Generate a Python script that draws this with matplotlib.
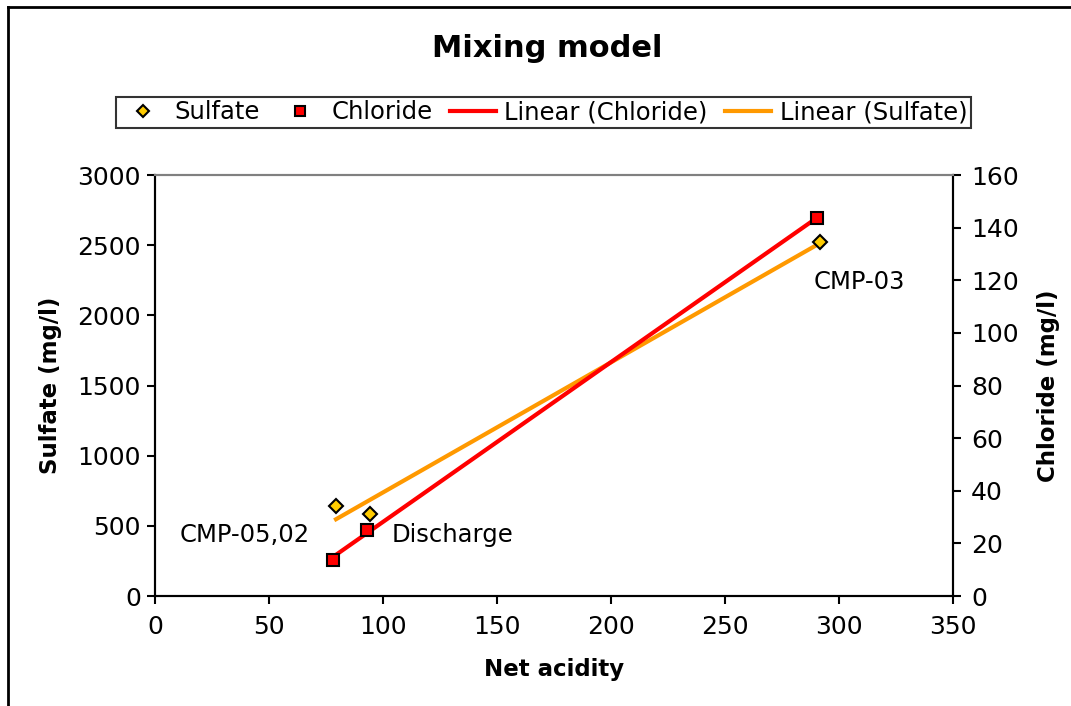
import numpy as np
import matplotlib.pyplot as plt
from matplotlib.lines import Line2D

# net acidity vs sulfate / chloride for the three sampling points
net_acidity_so4 = [79.4, 94.3, 291.7]
sulfate = [641, 584, 2522]
net_acidity_cl = [78.0, 93.0, 290.4]
chloride = [13.7, 25.1, 143.7]

site_labels = ['CMP-05,02', 'Discharge', 'CMP-03']

plt.rcParams['font.family'] = 'DejaVu Sans'

fig = plt.figure(figsize=(10.71, 7.06), dpi=100)
ax = fig.add_axes([0.1447, 0.1558, 0.7451, 0.5963])
ax2 = ax.twinx()

# linear trendlines, drawn between min and max x like a spreadsheet trendline
def trend(x, y):
    m, b = np.polyfit(x, y, 1)
    xs = np.array([min(x), max(x)])
    return xs, m * xs + b

xs_cl, ys_cl = trend(net_acidity_cl, chloride)
xs_so4, ys_so4 = trend(net_acidity_so4, sulfate)

l_so4, = ax.plot(xs_so4, ys_so4, color='#FF9900', lw=3, zorder=2)
l_cl, = ax2.plot(xs_cl, ys_cl, color='#FF0000', lw=3, zorder=2)

s_so4, = ax.plot(net_acidity_so4, sulfate, ls='none', marker='D', ms=7,
                 mfc='#FFCC00', mec='black', mew=1.5, zorder=3)
s_cl, = ax2.plot(net_acidity_cl, chloride, ls='none', marker='s', ms=8,
                 mfc='#FF0000', mec='black', mew=1.5, zorder=3)

ax.set_xlim(0, 350)
ax.set_ylim(0, 3000)
ax2.set_ylim(0, 160)
ax.set_xticks(np.arange(0, 351, 50))
ax.set_yticks(np.arange(0, 3001, 500))
ax2.set_yticks(np.arange(0, 161, 20))

for a in (ax, ax2):
    a.tick_params(labelsize=18, length=6, width=1.5, direction='out')
    for side in ('left', 'right', 'bottom'):
        a.spines[side].set_linewidth(1.5)
    a.spines['top'].set_color('#808080')
    a.spines['top'].set_linewidth(1.5)
ax.tick_params(axis='y', pad=4)
ax.tick_params(axis='x', pad=8)
ax2.tick_params(axis='y', pad=7)

ax.set_xlabel('Net acidity', fontsize=16.5, fontweight='bold')
ax.set_ylabel('Sulfate (mg/l)', fontsize=16.5, fontweight='bold')
ax2.set_ylabel('Chloride (mg/l)', fontsize=16.5, fontweight='bold')
ax.xaxis.set_label_coords(0.5, -0.147)
ax.yaxis.set_label_coords(-0.1165, 0.5)
ax2.yaxis.set_label_coords(1.105, 0.5)

# point labels
ax.text(39.5, 435, site_labels[0], fontsize=17.5, ha='center', va='center')
ax.text(104, 435, site_labels[1], fontsize=17.5, ha='left', va='center')
ax.text(289, 2240, site_labels[2], fontsize=17.5, ha='left', va='center')

fig.text(0.511, 0.932, 'Mixing model', fontsize=22, fontweight='bold',
         ha='center', va='center')

leg = fig.legend([s_so4, s_cl, l_cl, l_so4],
                 ['Sulfate', 'Chloride', 'Linear (Chloride)', 'Linear (Sulfate)'],
                 loc='center', bbox_to_anchor=(0.5075, 0.841), ncol=4,
                 fontsize=17.5, frameon=True, fancybox=False, edgecolor='black',
                 handlelength=1.9, handletextpad=0.35, columnspacing=0.7,
                 borderpad=0.15, borderaxespad=0, markerscale=0.9)
leg.get_frame().set_linewidth(1.5)

# chart frame (left and top edges)
fig.add_artist(Line2D([8 / 1071, 8 / 1071], [0, 1 - 7 / 706], color='black',
                      lw=2, transform=fig.transFigure))
fig.add_artist(Line2D([8 / 1071, 1], [1 - 7 / 706, 1 - 7 / 706], color='black',
                      lw=2, transform=fig.transFigure))

fig.savefig('out.png', dpi=100)
